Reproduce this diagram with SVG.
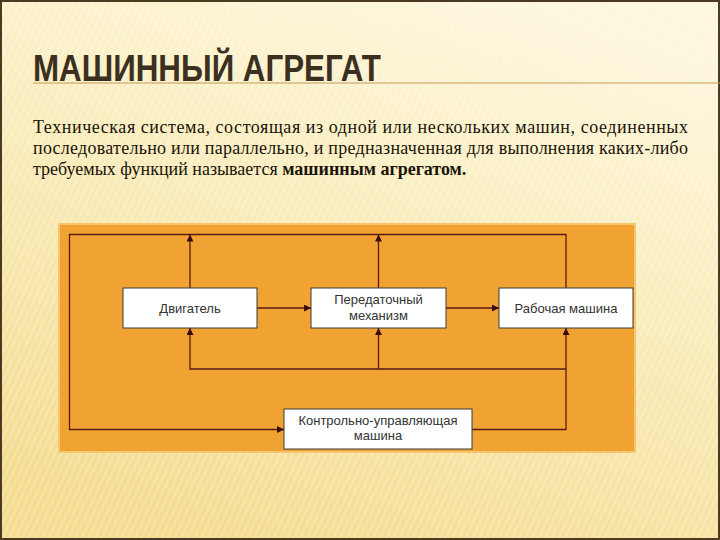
<svg xmlns="http://www.w3.org/2000/svg" width="720" height="540" viewBox="0 0 720 540">
<defs>
<linearGradient id="bg" x1="0.7" y1="0" x2="0.3" y2="1">
<stop offset="0" stop-color="#fdf6dc"/>
<stop offset="0.35" stop-color="#faeec0"/>
<stop offset="1" stop-color="#f4db8e"/>
</linearGradient>
<pattern id="stripes" width="6" height="6" patternUnits="userSpaceOnUse" patternTransform="rotate(25)">
<rect width="3" height="6" fill="#ffffff" opacity="0.18"/>
</pattern>
<marker id="arr" viewBox="0 0 10 10" refX="10" refY="5" markerWidth="7" markerHeight="7" markerUnits="userSpaceOnUse" orient="auto">
<path d="M0,0 L10,5 L0,10 Z" fill="#3a0d08"/>
</marker>
</defs>
<style>
.title{font-family:"Liberation Sans",Arial,sans-serif;font-size:36px;font-weight:bold;fill:#3b2f1f}
.body{font-family:"Liberation Serif","Times New Roman",serif;font-size:18px;fill:#1a1408}
.box rect{fill:#ffffff;stroke:#3a3a3a;stroke-width:1}
.box text{font-family:"Liberation Sans",Arial,sans-serif;font-size:13px;fill:#333;text-anchor:middle}
.conn path{fill:none;stroke:#5a1a10;stroke-width:1.3}
</style>
<rect x="0" y="0" width="720" height="540" fill="url(#bg)"/>
<rect x="0" y="0" width="720" height="540" fill="url(#stripes)"/>
<rect x="1" y="1" width="718" height="538" fill="none" stroke="#4a3a22" stroke-width="2"/>
<text class="title" x="33" y="81" textLength="348" lengthAdjust="spacingAndGlyphs">МАШИННЫЙ АГРЕГАТ</text>
<line x1="33" y1="83" x2="720" y2="83" stroke="#c49a5a" stroke-width="1.2"/>
<g class="body">
<text x="33" y="133" textLength="655" lengthAdjust="spacing">Техническая система, состоящая из одной или нескольких машин, соединенных</text>
<text x="33" y="154" textLength="655" lengthAdjust="spacing">последовательно или параллельно, и предназначенная для выполнения каких-либо</text>
<text x="33" y="175">требуемых функций называется <tspan font-weight="bold">машинным агрегатом.</tspan></text>
</g>
<rect x="59" y="224" width="576" height="228" fill="#f0a232" stroke="#f6c56e" stroke-width="2"/>
<g class="conn">
<path d="M257,308 H311" marker-end="url(#arr)"/>
<path d="M446,308 H499" marker-end="url(#arr)"/>
<path d="M566,288 V234.5 H69.5 V429.5 H284" marker-end="url(#arr)"/>
<path d="M190,288 V234.5" marker-end="url(#arr)"/>
<path d="M378.5,288 V234.5" marker-end="url(#arr)"/>
<path d="M472,429.5 H566 V328" marker-end="url(#arr)"/>
<path d="M566,369 H190 V328" marker-end="url(#arr)"/>
<path d="M378.5,369 V328" marker-end="url(#arr)"/>
</g>
<g id="engine" class="box"><rect x="123" y="288" width="134" height="40"/><text x="190" y="313">Двигатель</text></g>
<g id="transmission" class="box"><rect x="311" y="288" width="135" height="40"/><text x="378.5" y="304">Передаточный</text><text x="378.5" y="320">механизм</text></g>
<g id="worker" class="box"><rect x="499" y="288" width="134" height="40"/><text x="566" y="313">Рабочая машина</text></g>
<g id="control" class="box"><rect x="284" y="409" width="188" height="40"/><text x="378" y="425">Контрольно-управляющая</text><text x="378" y="440">машина</text></g>
</svg>
